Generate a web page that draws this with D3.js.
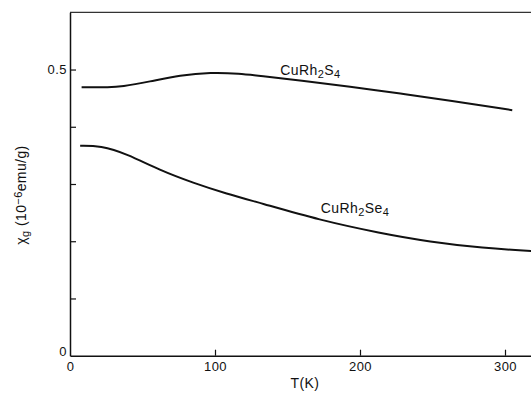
<!DOCTYPE html>
<html>
<head>
<meta charset="utf-8">
<script src="https://cdn.jsdelivr.net/npm/d3@7"></script>
<style>
  body { margin: 0; background: #fff; }
  svg { display: block; font-family: "Liberation Sans", Arial, sans-serif; }
  .tick text { font-size: 13px; fill: #111; letter-spacing: 0.5px; }
  .label { font-size: 14px; fill: #111; letter-spacing: 0.4px; }
</style>
</head>
<body>
<div id="chart"></div>
<script>
const svgWidth = 531;
const svgHeight = 393;

// temperature (K) and susceptibility (1e-6 emu/g)
var tS4 = [8, 28, 35, 55, 76, 97, 117, 131, 159, 193, 228, 262, 305];
var chiS4 = [0.469, 0.469, 0.470, 0.479, 0.490, 0.495, 0.493, 0.489, 0.481, 0.470, 0.458, 0.446, 0.429];

var tSe4 = [7, 21, 39, 62, 85, 108, 131, 172, 214, 248, 285, 318];
var chiSe4 = [0.367, 0.367, 0.353, 0.324, 0.302, 0.283, 0.267, 0.237, 0.214, 0.199, 0.188, 0.183];

var xTicks = [0, 100, 200, 300];
var yTicks = [0, 0.1, 0.2, 0.3, 0.4, 0.5];
var yTickLabels = ["0", "", "", "", "", "0.5"];

var svg = d3.select("#chart")
  .append("svg")
  .attr("width", svgWidth)
  .attr("height", svgHeight);

var x = d3.scaleLinear().domain([0, 320]).range([70, 534]);
var y = d3.scaleLinear().domain([0, 0.6]).range([355.7, 12.3]);

// top frame line
svg.append("line")
  .attr("x1", x(0)).attr("x2", svgWidth)
  .attr("y1", y(0.6)).attr("y2", y(0.6))
  .attr("stroke", "#333")
  .attr("stroke-width", 1.2);

// x axis, ticks pointing inward
var xAxis = svg.append("g")
  .attr("transform", `translate(0, ${y(0)})`)
  .call(d3.axisBottom(x)
    .tickValues(xTicks)
    .tickSizeInner(-6)
    .tickSizeOuter(0)
    .tickPadding(6)
    .tickFormat(d3.format("d")));

// y axis
var yAxis = svg.append("g")
  .attr("transform", `translate(${x(0)}, 0)`)
  .call(d3.axisLeft(y)
    .tickValues(yTicks)
    .tickSizeInner(-6)
    .tickSizeOuter(0)
    .tickPadding(3)
    .tickFormat((d, i) => yTickLabels[i]));

svg.selectAll(".domain").attr("stroke", "#111").attr("stroke-width", 1.5);
svg.selectAll(".tick line").attr("stroke", "#111").attr("stroke-width", 1.2);
xAxis.selectAll(".tick").filter(d => d === 0).select("line").remove();
yAxis.selectAll(".tick").filter(d => d === 0).select("line").remove();
yAxis.selectAll(".tick").filter(d => d === 0).select("text").attr("dy", "-0.05em");

// curves
var line = d3.line()
  .x(d => x(d[0]))
  .y(d => y(d[1]))
  .curve(d3.curveBasis);

svg.append("path")
  .datum(d3.zip(tS4, chiS4))
  .attr("d", line)
  .attr("fill", "none")
  .attr("stroke", "#111")
  .attr("stroke-width", 2);

svg.append("path")
  .datum(d3.zip(tSe4, chiSe4))
  .attr("d", line)
  .attr("fill", "none")
  .attr("stroke", "#111")
  .attr("stroke-width", 2);

// curve labels
function formula(px, py, parts) {
  var t = svg.append("text")
    .attr("class", "label")
    .attr("x", px)
    .attr("y", py);
  parts.forEach(function(p) {
    t.append("tspan")
      .attr("font-size", p[1] ? "11px" : "14px")
      .attr("baseline-shift", p[1] ? "-3" : "0")
      .text(p[0]);
  });
}
formula(x(145), y(0.49), [["CuRh", false], ["2", true], ["S", false], ["4", true]]);
formula(x(173), y(0.2485), [["CuRh", false], ["2", true], ["Se", false], ["4", true]]);

// axis titles
svg.append("text")
  .attr("class", "label")
  .attr("x", x(162))
  .attr("y", 388)
  .attr("text-anchor", "middle")
  .text("T(K)");

var ylab = svg.append("text")
  .attr("class", "label")
  .attr("text-anchor", "middle")
  .attr("transform", "translate(26, 195) rotate(-90)");
ylab.append("tspan").text("χ");
ylab.append("tspan").attr("font-size", "11px").attr("baseline-shift", "-3").text("g");
ylab.append("tspan").text(" (10");
ylab.append("tspan").attr("font-size", "11px").attr("baseline-shift", "4").text("−6");
ylab.append("tspan").text("emu/g)");
</script>
</body>
</html>
